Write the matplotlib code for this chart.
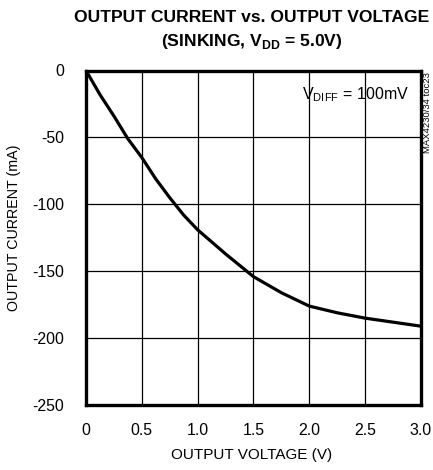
import matplotlib
matplotlib.use("Agg")
import matplotlib.pyplot as plt

# data
volts = [0, 0.125, 0.25, 0.375, 0.5, 0.625, 0.75, 0.875, 1.0, 1.25, 1.5, 1.75, 2.0, 2.25, 2.5, 2.75, 3.0]
current = [0, -18, -34, -51, -65, -81, -95, -108, -119, -137, -154, -166, -176, -181, -185, -188, -191]
xticks = [0, 0.5, 1.0, 1.5, 2.0, 2.5, 3.0]
xtick_labels = ["0", "0.5", "1.0", "1.5", "2.0", "2.5", "3.0"]
yticks = [0, -50, -100, -150, -200, -250]

plt.rcParams['font.family'] = ['Liberation Sans', 'DejaVu Sans']
plt.rcParams['axes.unicode_minus'] = False
plt.rcParams['mathtext.fontset'] = 'custom'
plt.rcParams['mathtext.rm'] = 'Liberation Sans'
plt.rcParams['mathtext.bf'] = 'Liberation Sans:bold'

fig = plt.figure(figsize=(4.33, 4.70), dpi=100)
ax = fig.add_axes([0.1986, 0.138, 0.7734, 0.712])

ax.plot(volts, current, color='black', lw=2.3, solid_capstyle='butt', solid_joinstyle='round')
ax.set_xlim(0, 3.0)
ax.set_ylim(-250, 0)
ax.set_xticks(xticks)
ax.set_xticklabels(xtick_labels)
ax.set_yticks(yticks)
ax.grid(True, color='black', lw=0.9)
ax.tick_params(length=0, labelsize=11.4)
ax.tick_params(axis='x', pad=13)
ax.tick_params(axis='y', pad=16)
for s in ax.spines.values():
    s.set_linewidth(2.4)

ax.set_xlabel("OUTPUT VOLTAGE (V)", fontsize=11)
ax.xaxis.set_label_coords(0.494, -0.128)
ax.set_ylabel("OUTPUT CURRENT (mA)", fontsize=10.3)
ax.yaxis.set_label_coords(-0.194, 0.53)

fig.text(0.581, 0.962, "OUTPUT CURRENT vs. OUTPUT VOLTAGE", ha='center', va='center',
         fontsize=12.6, fontweight='bold')
fig.text(0.581, 0.911, r"(SINKING, V$_{\mathbf{DD}}$ = 5.0V)", ha='center', va='center',
         fontsize=12.6, fontweight='bold')

ax.text(0.965, 0.955, r"V$_{\mathrm{DIFF}}$ = 100mV", transform=ax.transAxes,
        ha='right', va='top', fontsize=11.5)
fig.text(0.988, 0.847, "MAX4230/34 toc23", rotation=90, ha='center', va='top', fontsize=6.8)

fig.savefig("out.png", dpi=100)
